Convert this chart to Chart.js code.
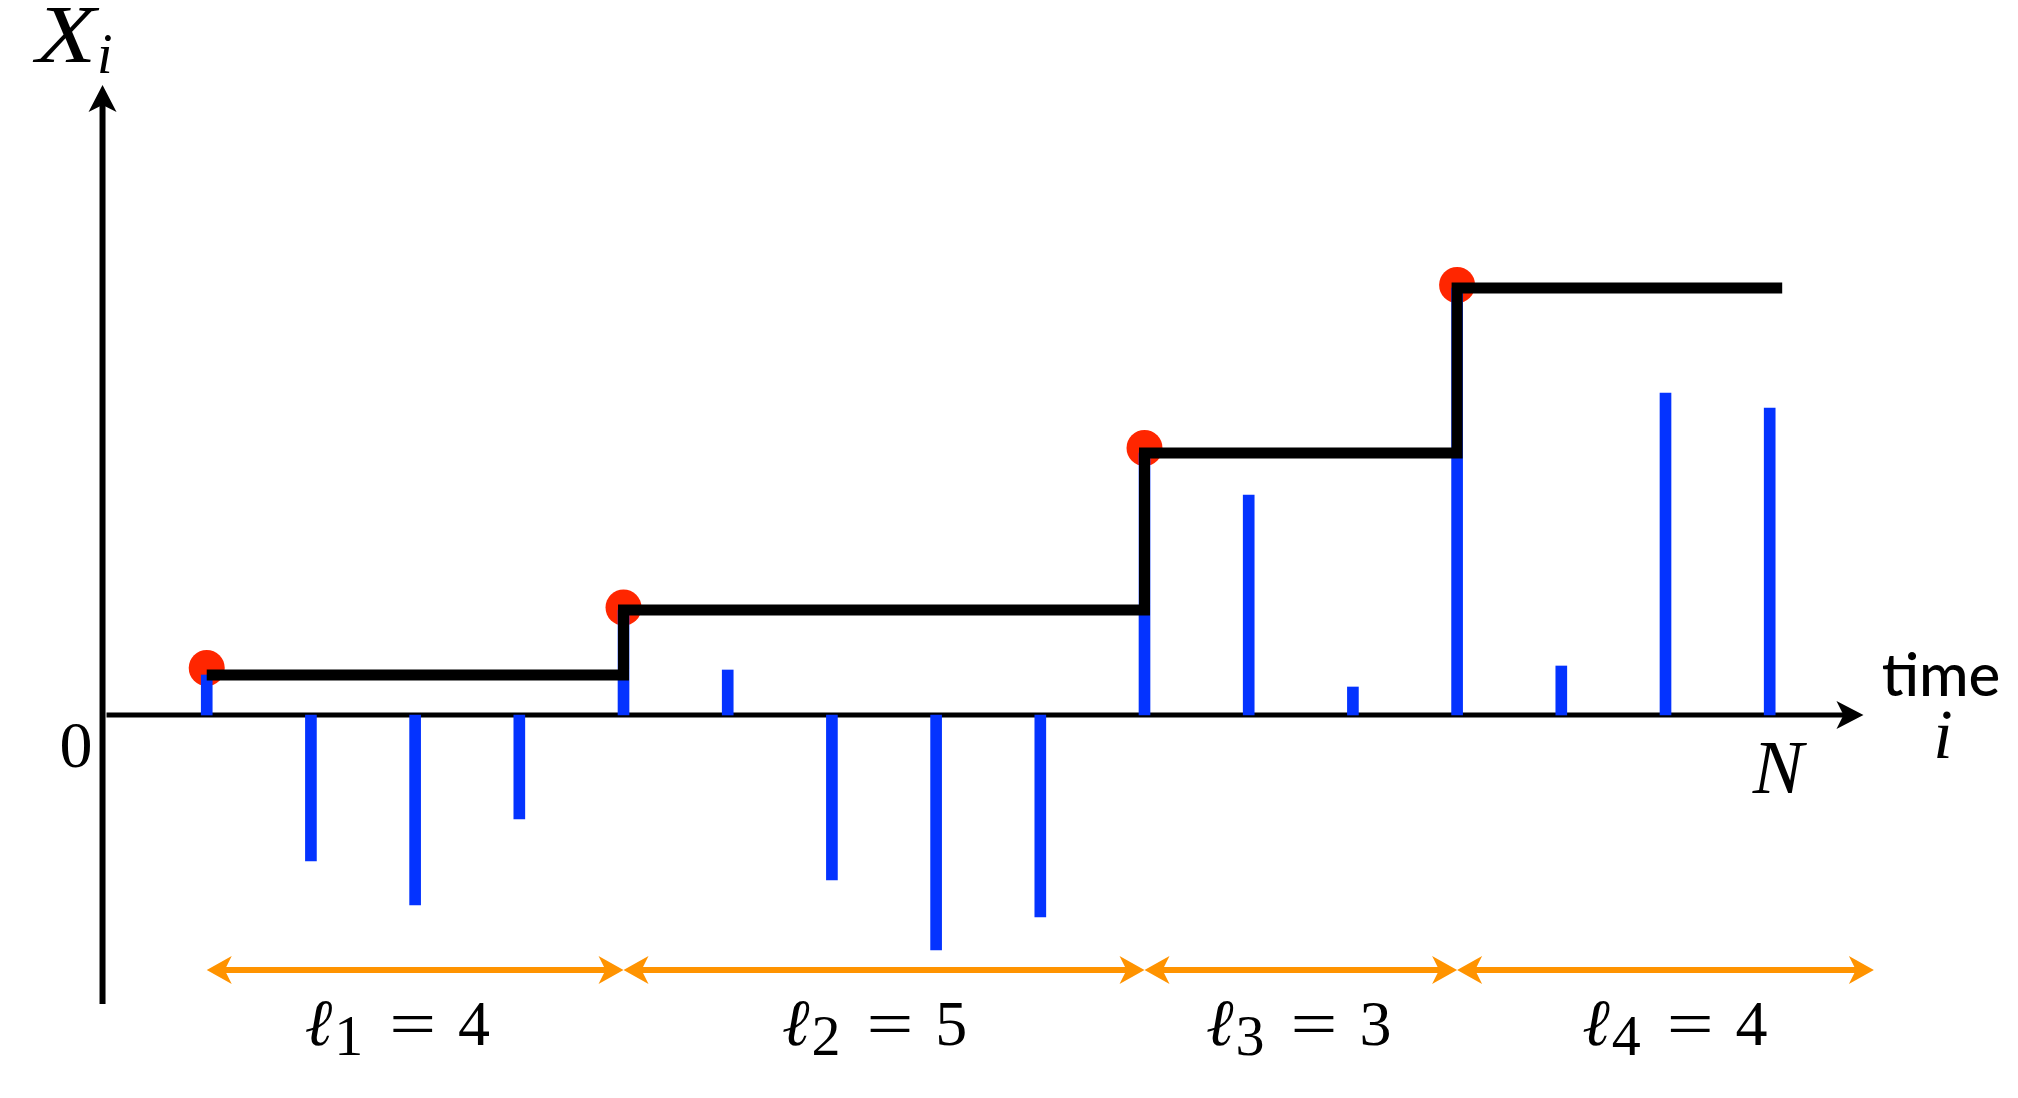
<!DOCTYPE html>
<html>
<head>
<meta charset="utf-8">
<script src="https://cdn.jsdelivr.net/npm/chart.js@4"></script>
<style>
  html, body { margin: 0; padding: 0; background: #fff; }
  canvas { display: block; }
</style>
</head>
<body>
<canvas id="myChart" width="2018" height="1098"></canvas>
<script>
// time index i and the value X_i at each step
var steps = [1, 2, 3, 4, 5, 6, 7, 8, 9, 10, 11, 12, 13, 14, 15, 16];
var xValues = [0.40, -1.46, -1.90, -1.04, 1.05, 0.45, -1.65, -2.35, -2.02, 2.62, 2.20, 0.28, 4.27, 0.49, 3.22, 3.07];

// records (red dots) and the running maximum level
var recordSteps = [1, 5, 10, 13];
var recordValues = [0.47, 1.075, 2.67, 4.30];
var levelValues = [0.40, 1.05, 2.62, 4.27];
var levelEnd = 16.12;

// run lengths shown under the axis
var runStart = [1, 5, 10, 13];
var runEnd = [5, 10, 13, 17];
var runLengths = [4, 5, 3, 4];
var runLabelPos = [2.83, 7.41, 11.48, 15.09];

var BLUE = '#0433FF', RED = '#FF2600', ORANGE = '#FF9300';

window.onload = function () {
    var ctx = document.getElementById("myChart").getContext("2d");

    var spikePts = steps.map(function (s, k) { return { x: s, y: xValues[k] }; });
    var dotPts = recordSteps.map(function (s, k) { return { x: s, y: recordValues[k] }; });
    var levelPts = recordSteps.map(function (s, k) { return { x: s, y: levelValues[k] }; });
    levelPts.push({ x: levelEnd, y: levelValues[levelValues.length - 1] });

    function arrowHead(c, tx, ty, dx, dy, len, half, notch) {
        // dx,dy: unit direction the arrow points to
        var px = -dy, py = dx;
        var bx = tx - dx * len, by = ty - dy * len;
        c.beginPath();
        c.moveTo(tx, ty);
        c.lineTo(bx + px * half, by + py * half);
        c.lineTo(tx - dx * (len - notch), ty - dy * (len - notch));
        c.lineTo(bx - px * half, by - py * half);
        c.closePath();
        c.fill();
    }

    var decor = {
        id: 'decor',
        beforeDatasetsDraw: function (chart) {
            var c = chart.ctx, xs = chart.scales.x, ys = chart.scales.y;
            var x0 = xs.getPixelForValue(0), y0 = ys.getPixelForValue(0);
            var yTop = ys.getPixelForValue(6.30), yBot = ys.getPixelForValue(-2.89);
            var xEnd = xs.getPixelForValue(16.9);
            c.save();
            c.fillStyle = '#000';
            c.strokeStyle = '#000';
            // y axis
            c.lineWidth = 6;
            c.beginPath();
            c.moveTo(x0, yBot);
            c.lineTo(x0, yTop + 18);
            c.stroke();
            arrowHead(c, x0, yTop, 0, -1, 27, 14, 7);
            // x axis
            c.lineWidth = 5;
            c.beginPath();
            c.moveTo(x0 + 4, y0);
            c.lineTo(xEnd - 18, y0);
            c.stroke();
            arrowHead(c, xEnd, y0, 1, 0, 27, 14, 7);
            c.restore();
        },
        afterDraw: function (chart) {
            var c = chart.ctx, xs = chart.scales.x, ys = chart.scales.y;
            var x0 = xs.getPixelForValue(0), y0 = ys.getPixelForValue(0);
            c.save();
            // orange run arrows
            var ya = ys.getPixelForValue(-2.55);
            c.fillStyle = ORANGE;
            c.strokeStyle = ORANGE;
            c.lineWidth = 6;
            for (var k = 0; k < runStart.length; k++) {
                var a = xs.getPixelForValue(runStart[k]), b = xs.getPixelForValue(runEnd[k]);
                c.beginPath();
                c.moveTo(a + 15, ya);
                c.lineTo(b - 15, ya);
                c.stroke();
                arrowHead(c, a, ya, -1, 0, 25, 14, 7);
                arrowHead(c, b, ya, 1, 0, 25, 14, 7);
            }
            // run labels  l_k = n
            c.fillStyle = '#000';
            c.textBaseline = 'alphabetic';
            var yl = ys.getPixelForValue(-3.30);
            var fMain = 'italic 66px "Liberation Serif", "DejaVu Serif", serif';
            var fNum = '64px "Liberation Serif", serif';
            var fSub = '58px "Liberation Serif", serif';
            for (k = 0; k < runLengths.length; k++) {
                c.font = fMain; var wl = c.measureText('\u2113').width;
                c.font = fSub; var ws = c.measureText(String(k + 1)).width;
                c.font = fNum; var we = c.measureText('=').width * 1.3, wn = c.measureText(String(runLengths[k])).width;
                var total = wl + 2 + ws + 26 + we + 22 + wn;
                var sx = xs.getPixelForValue(runLabelPos[k]) - total / 2;
                c.textAlign = 'left';
                c.font = fMain; c.fillText('\u2113', sx, yl);
                sx += wl + 2;
                c.font = fSub; c.fillText(String(k + 1), sx, yl + 10);
                sx += ws + 26;
                c.font = fNum;
                c.save();
                c.translate(sx, yl);
                c.scale(1.3, 1);
                c.fillText('=', 0, 0);
                c.restore();
                sx += we + 22;
                c.fillText(String(runLengths[k]), sx, yl);
            }
            // axis labels
            c.textAlign = 'right';
            c.font = 'italic 82px "Liberation Serif", serif';
            c.save();
            c.translate(96, 62);
            c.scale(1.2, 1);
            c.fillText('X', 0, 0);
            c.restore();
            c.textAlign = 'left';
            c.font = 'italic 56px "Liberation Serif", serif';
            c.fillText('i', 97, 73);
            c.textAlign = 'right';
            c.font = '66px "Liberation Serif", serif';
            c.fillText('0', x0 - 10, y0 + 52);
            c.textAlign = 'center';
            c.font = 'italic 76px "Liberation Serif", serif';
            c.fillText('N', xs.getPixelForValue(16.08), y0 + 78);
            c.font = '500 60px Lato, "Open Sans", sans-serif';
            c.fillText('time', 1941, 696);
            c.font = 'italic 70px "Liberation Serif", serif';
            c.fillText('i', 1943, 758);
            c.restore();
        }
    };

    new Chart(ctx, {
        type: 'bar',
        data: {
            datasets: [
                {
                    type: 'line',
                    data: levelPts,
                    stepped: true,
                    borderColor: '#000',
                    borderWidth: 11,
                    borderCapStyle: 'butt',
                    borderJoinStyle: 'miter',
                    pointRadius: 0,
                    fill: false,
                    order: 0
                },
                {
                    type: 'bar',
                    data: spikePts,
                    backgroundColor: BLUE,
                    barThickness: 11,
                    order: 1
                },
                {
                    type: 'line',
                    data: dotPts,
                    showLine: false,
                    pointRadius: 18,
                    pointBackgroundColor: RED,
                    pointBorderWidth: 0,
                    order: 2
                }
            ]
        },
        options: {
            responsive: false,
            animation: false,
            devicePixelRatio: 1,
            layout: { padding: 0, autoPadding: false },
            plugins: { legend: { display: false }, tooltip: { enabled: false } },
            scales: {
                x: { type: 'linear', min: -0.984, max: 18.383, offset: false, display: false },
                y: { min: -3.83, max: 7.15, display: false }
            }
        },
        plugins: [decor]
    });
};
</script>
</body>
</html>
